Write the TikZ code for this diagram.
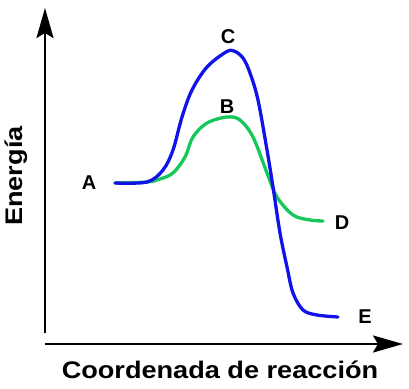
\documentclass[tikz,border=0pt]{standalone}
\usepackage{fontspec}
\setmainfont{Liberation Sans}
\usetikzlibrary{arrows.meta}
\definecolor{curvablue}{RGB}{18,18,235}
\definecolor{curvagreen}{RGB}{20,200,90}
\begin{document}
\begin{tikzpicture}[x=1pt,y=-1pt,
	eje/.style={line width=2.6pt,-{Stealth[length=30pt,width=17pt,inset=5pt]}},
	curva/.style={line width=3.3pt,line cap=round,line join=round},
	etiqueta/.style={font=\bfseries\fontsize{20}{22}\selectfont},
	titulo/.style={font=\bfseries\fontsize{24}{28}\selectfont}]
		\useasboundingbox (0,0) rectangle (409,388);
		\coordinate (O) at (45,344);
		\coordinate (ytop) at (45,8);
		\coordinate (xtip) at (403,344);
		\draw[eje] (45,333)--(ytop);
		\draw[eje] (O)--(xtip);
		% camino catalizado
		\draw[curva,curvagreen] plot[smooth,tension=.55] coordinates {(115,183) (147,182) (160,179) (173,173) (185,157) (193,137) (207,123) (227,117) (240,120) (253,137) (267,173) (277,197) (293,215) (310,220) (323,221)};
		% camino sin catalizar
		\draw[curva,curvablue] plot[smooth,tension=.55] coordinates {(115,183) (147,182) (163,170) (173,150) (182,117) (192,90) (207,67) (226,52) (234,51) (243,58) (250,73) (258,100) (267,150) (273,187) (280,233) (287,267) (293,293) (303,310) (317,315) (338,317)};
		\node[etiqueta] (A) at (89,183) {A};
		\node[etiqueta] (B) at (227,107) {B};
		\node[etiqueta] (C) at (228,37) {C};
		\node[etiqueta] (D) at (342,223) {D};
		\node[etiqueta] (E) at (365,317) {E};
		\node[titulo] (xlabel) at (220,370) {\scalebox{1.13}[1]{Coordenada de reacción}};
		\node[titulo,rotate=90] (ylabel) at (16,176) {\scalebox{1.13}[1]{Energía}};
	\end{tikzpicture}
\end{document}
